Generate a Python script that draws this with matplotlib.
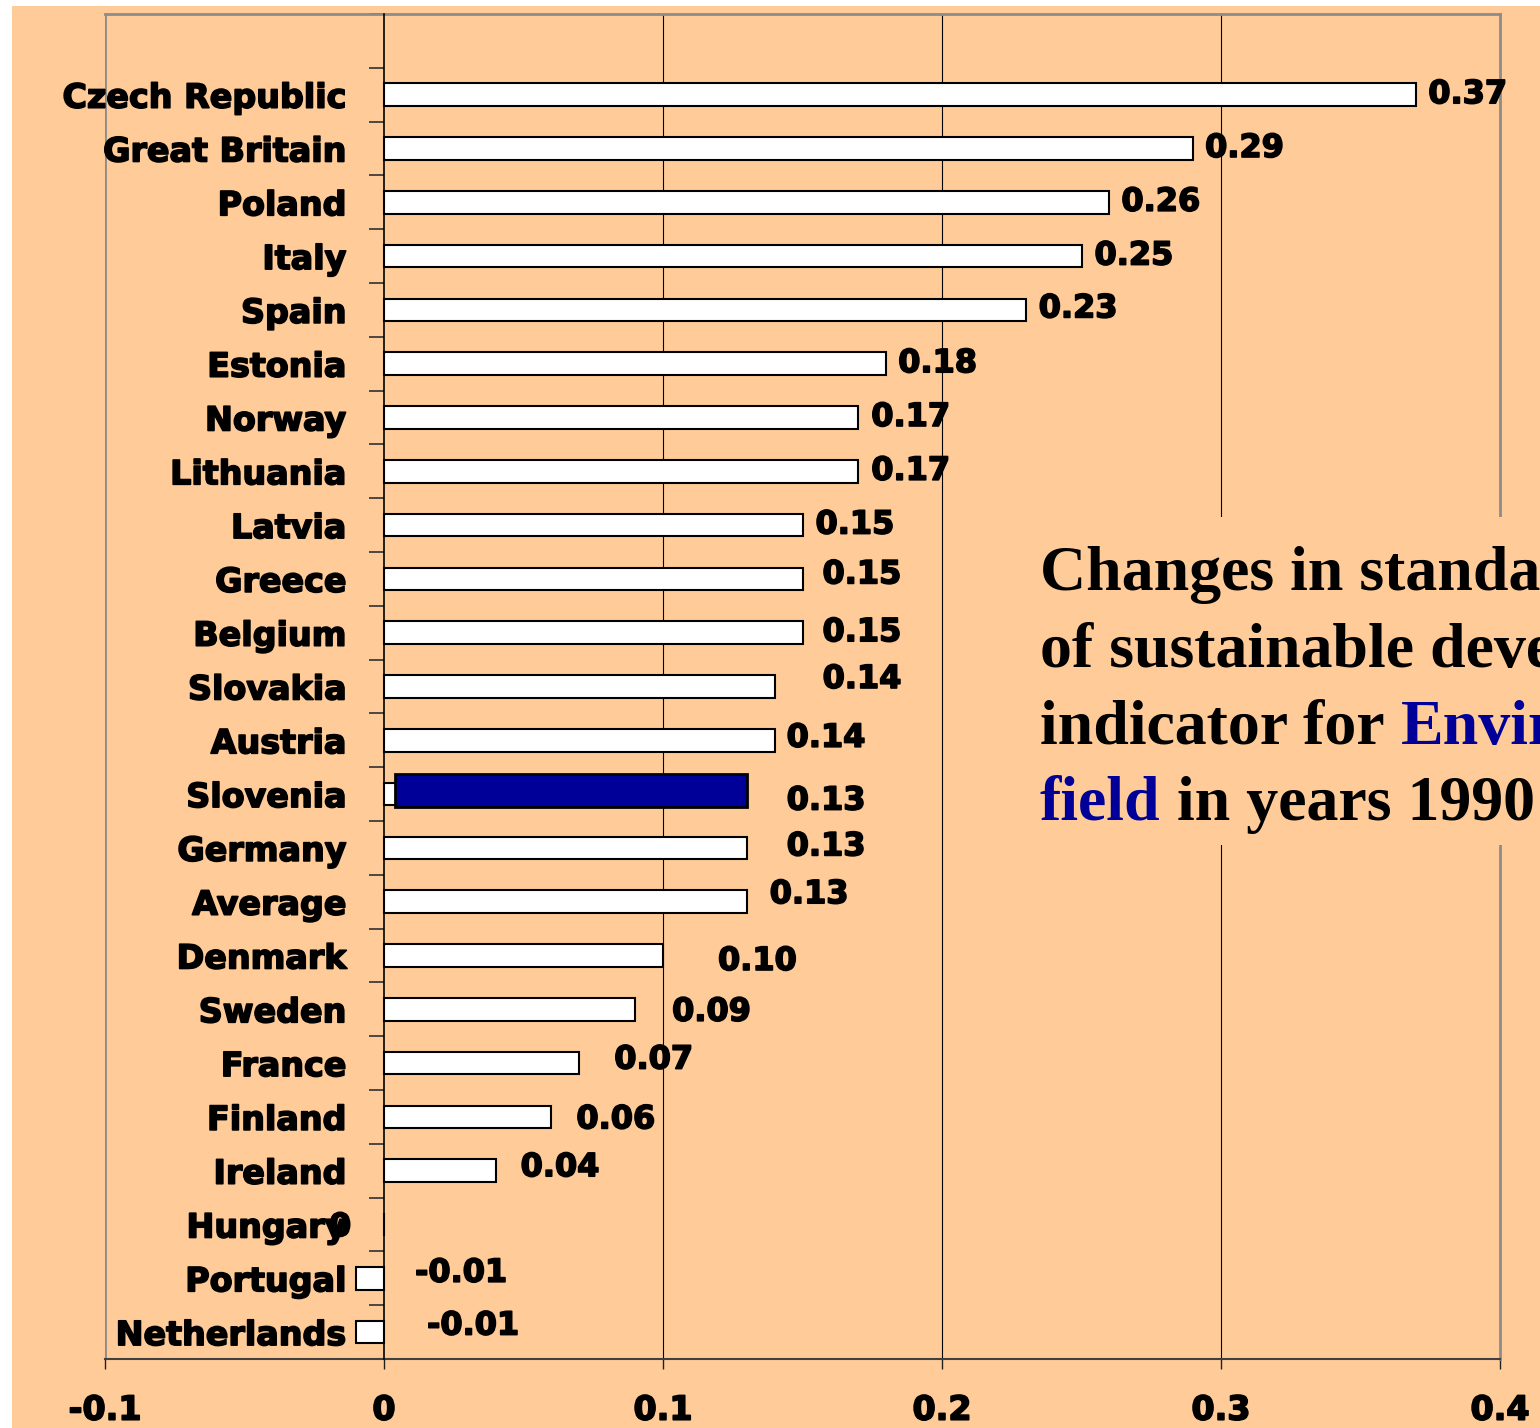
import matplotlib
matplotlib.use('Agg')
import matplotlib.pyplot as plt
import matplotlib.patheffects as pe
from matplotlib.patches import Rectangle
import numpy as np

# country values, top to bottom
countries = ['Czech Republic', 'Great Britain', 'Poland', 'Italy', 'Spain', 'Estonia',
             'Norway', 'Lithuania', 'Latvia', 'Greece', 'Belgium', 'Slovakia', 'Austria',
             'Slovenia', 'Germany', 'Average', 'Denmark', 'Sweden', 'France', 'Finland',
             'Ireland', 'Hungary', 'Portugal', 'Netherlands']
values = [0.37, 0.29, 0.26, 0.25, 0.23, 0.18, 0.17, 0.17, 0.15, 0.15, 0.15, 0.14, 0.14,
          0.13, 0.13, 0.13, 0.10, 0.09, 0.07, 0.06, 0.04, 0, -0.01, -0.01]
value_labels = ['0.37', '0.29', '0.26', '0.25', '0.23', '0.18', '0.17', '0.17', '0.15',
                '0.15', '0.15', '0.14', '0.14', '0.13', '0.13', '0.13', '0.10', '0.09',
                '0.07', '0.06', '0.04', '0', '-0.01', '-0.01']
x_ticks = [-0.1, 0, 0.1, 0.2, 0.3, 0.4]
x_tick_labels = ['-0.1', '0', '0.1', '0.2', '0.3', '0.4']
highlight = 'Slovenia'

# hand-placed label nudges (pixels, right / down)
label_nudge = [(12, 0), (12, 0), (12, 0), (13, 0), (13, -1), (12, 0), (13, 0), (13, 0),
               (13, 0), (20, -4), (20, 0), (48, -7), (12, -2), (40, 7), (40, -1), (23, -7),
               (55, 6), (37, 3), (35, -3), (25, 3), (25, -3), (-55, 3), (59, -5), (71, -6)]

W, H = 1540, 1428
PEACH = '#FFCC99'
BLUE = '#000099'
sans = ['DejaVu Sans']
serif = ['Liberation Serif', 'DejaVu Serif']
heavy = [pe.withStroke(linewidth=1.2, foreground='black')]

fig = plt.figure(figsize=(W / 100, H / 100), dpi=100)
fig.patch.set_facecolor('white')
fig.add_artist(Rectangle((12 / W, 0), 1, 1 - 6 / H, transform=fig.transFigure,
                         facecolor=PEACH, edgecolor='none', zorder=0))

ax = fig.add_axes([105 / W, 1 - 1359 / H, 1395 / W, 1345 / H])
ax.set_facecolor('none')

n = len(countries)
ypos = np.arange(n)[::-1]
ax.set_xlim(-0.1, 0.4)
ax.set_ylim(-0.5, n + 0.5)

for g in [0.1, 0.2, 0.3]:
    ax.axvline(g, color='black', lw=0.8, zorder=1)

ax.barh(ypos, values, height=0.42, color='white', edgecolor='black', lw=1.5, zorder=3)

# highlighted country drawn as a raised dark bar
hi = countries.index(highlight)
ax.add_patch(Rectangle((0.004, ypos[hi] - 0.24), values[hi] - 0.004, 0.61,
                       facecolor=BLUE, edgecolor='black', lw=2, zorder=4))

for y, v, txt, (dx, dy) in zip(ypos, values, value_labels, label_nudge):
    ax.annotate(txt, (v, y), xytext=(dx * 0.72, -dy * 0.72), textcoords='offset points',
                ha='left', va='center', fontsize=23, fontweight='bold', family=sans,
                zorder=6, annotation_clip=False, path_effects=heavy)

# frame
for side in ['top', 'right']:
    ax.spines[side].set_color('#8c8c8c')
    ax.spines[side].set_linewidth(2)
ax.spines['bottom'].set_color('#404040')
ax.spines['bottom'].set_linewidth(1.5)
ax.spines['left'].set_position(('data', 0))
ax.spines['left'].set_color('black')
ax.spines['left'].set_linewidth(1.2)
ax.spines['left'].set_zorder(5)
ax.axvline(-0.1, color='#8c8c8c', lw=2, zorder=1)

ax.set_xticks(x_ticks)
ax.set_xticklabels(x_tick_labels, fontsize=24, fontweight='bold', family=sans)
ax.tick_params(axis='x', length=7, width=1, color='#202020', pad=18)

ax.set_yticks(ypos)
ax.set_yticklabels(countries, fontsize=24, fontweight='bold', family=sans)
ax.set_yticks(np.arange(-0.5, n + 1), minor=True)
ax.tick_params(axis='y', which='major', length=0, pad=27)
ax.tick_params(axis='y', which='minor', length=11, width=1.2, color='#303030')
for lab in ax.get_yticklabels() + ax.get_xticklabels():
    lab.set_zorder(6)
    lab.set_path_effects(heavy)

# title block on a peach panel
fig.add_artist(Rectangle((1000 / W, 1 - 845 / H), 1, 328 / H, transform=fig.transFigure,
                         facecolor=PEACH, edgecolor='none', zorder=2))
tx = 1040 / W
space = 11.5  # width of a space in points at this size
title_kw = dict(fontsize=46, fontweight='bold', family=serif, va='baseline', ha='left', zorder=7)
fig.text(tx, 1 - 590 / H, 'Changes in standa', color='black', **title_kw)
fig.text(tx, 1 - 667 / H, 'of sustainable deve', color='black', **title_kw)
t3 = fig.text(tx, 1 - 744 / H, 'indicator for', color='black', **title_kw)
fig.text(tx, 1 - 820 / H, 'field', color=BLUE, **title_kw)
t4 = fig.texts[-1]

part_kw = dict(fontsize=46, fontweight='bold', family=serif, va='bottom', ha='left',
               zorder=7, textcoords='offset points', annotation_clip=False)
fig.add_artist(plt.Annotation('Envir', xy=(1, 0), xycoords=t3, xytext=(space, 0),
                              color=BLUE, **part_kw))
fig.add_artist(plt.Annotation('in years 1990', xy=(1, 0), xycoords=t4, xytext=(space, 0),
                              color='black', **part_kw))

fig.savefig('out.png', dpi=100)
